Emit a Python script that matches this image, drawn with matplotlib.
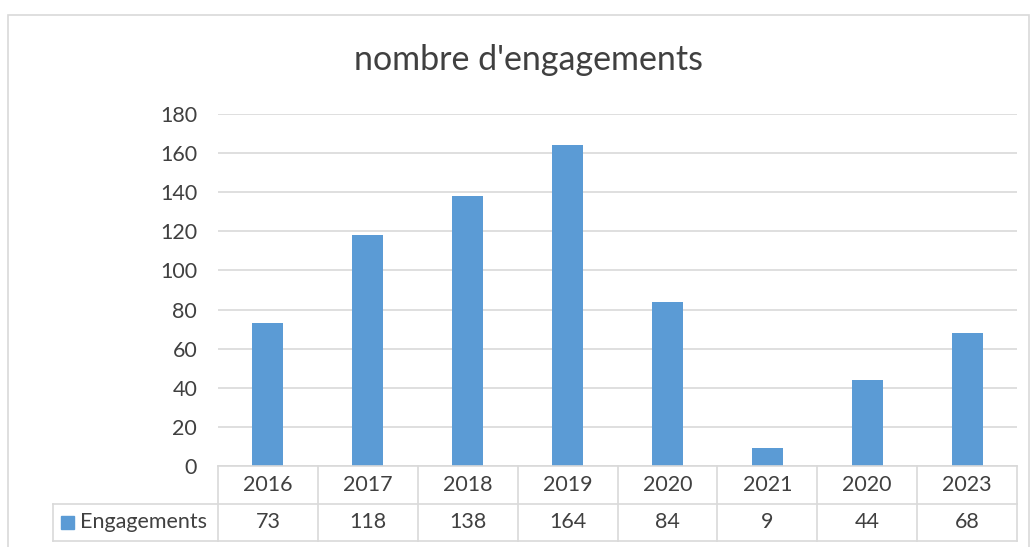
import matplotlib.pyplot as plt
from matplotlib.patches import Rectangle

plt.rcParams['font.family'] = ['Lato', 'DejaVu Sans']

years = ['2016', '2017', '2018', '2019', '2020', '2021', '2020', '2023']
engagements = [73, 118, 138, 164, 84, 9, 44, 68]
series_name = 'Engagements'
title = "nombre d'engagements"

bar_color = '#5B9BD5'
grid_color = '#D9D9D9'
text_color = '#404040'
fs = 15.5

W, H = 1033, 547
fig = plt.figure(figsize=(W / 100, H / 100), dpi=100)

# outer chart border
fig.patches.append(Rectangle((8 / W, -0.05), (1029 - 8) / W, 1 - 15 / H + 0.05,
                             transform=fig.transFigure, fill=False,
                             edgecolor=grid_color, linewidth=1.2))

# plot area
x0, x1 = 218, 1017
ax = fig.add_axes([x0 / W, 1 - 466 / H, (x1 - x0) / W, (466 - 114) / H])
pos = list(range(len(years)))
ax.bar(pos, engagements, width=0.31, color=bar_color, zorder=3)
ax.set_xlim(-0.5, len(years) - 0.5)
ax.set_ylim(0, 180)
ax.set_yticks(range(0, 181, 20))
ax.set_xticks([])
ax.grid(axis='y', color=grid_color, linewidth=1.2, zorder=0)
for s in ax.spines.values():
    s.set_visible(False)
ax.tick_params(axis='y', length=0, pad=15, labelsize=fs, labelcolor=text_color)

fig.text(528 / W, 1 - 60 / H, title, ha='center', va='center',
         fontsize=24.5, color=text_color)

# data table under the axis
tab = fig.add_axes([x0 / W, 1 - 541 / H, (x1 - x0) / W, (541 - 466) / H])
tab.set_xlim(-0.5, len(years) - 0.5)
tab.set_ylim(0, 2)
tab.axis('off')
left = -0.5 - (x0 - 53) / ((x1 - x0) / len(years))
lk = dict(color=grid_color, linewidth=1.2, clip_on=False)
tab.plot([-0.5, len(years) - 0.5], [2, 2], **lk)
tab.plot([left, len(years) - 0.5], [1, 1], **lk)
tab.plot([left, len(years) - 0.5], [0, 0], **lk)
tab.plot([left, left], [0, 1], **lk)
for i in range(len(years) + 1):
    tab.plot([i - 0.5, i - 0.5], [0, 2], **lk)
for i, (yr, v) in enumerate(zip(years, engagements)):
    tab.text(i, 1.5, yr, ha='center', va='center', fontsize=fs, color=text_color)
    tab.text(i, 0.5, str(v), ha='center', va='center', fontsize=fs, color=text_color)

# legend key + series name
fig.patches.append(Rectangle((61 / W, 1 - 529 / H), 13 / W, 13 / H,
                             transform=fig.transFigure, color=bar_color))
fig.text(80 / W, 1 - 522 / H, series_name, ha='left', va='center',
         fontsize=fs, color=text_color)

fig.savefig('out.png', dpi=100)
